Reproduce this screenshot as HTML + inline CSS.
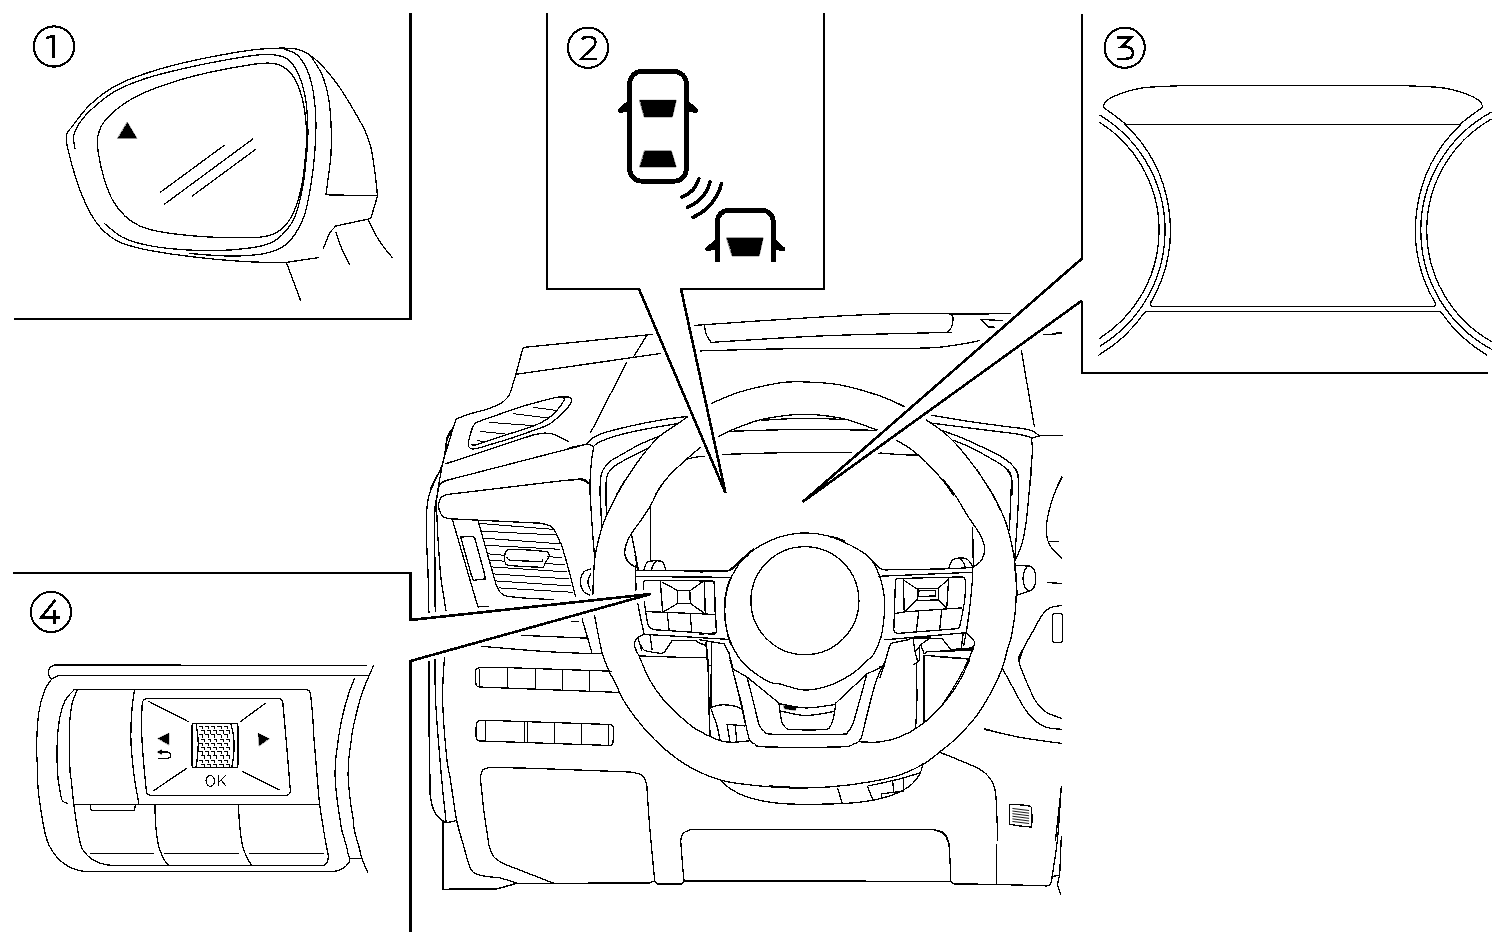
<!DOCTYPE html>
<html><head><meta charset="utf-8"><title>Diagram</title>
<style>
html,body{margin:0;padding:0;background:#fff;}
body{width:1502px;height:946px;overflow:hidden;font-family:"Liberation Sans",sans-serif;}
svg{display:block;position:absolute;left:0;top:0;shape-rendering:crispEdges;}
path,circle,ellipse,line,rect,polygon,polyline{stroke:#000;stroke-linecap:round;stroke-linejoin:round;}
text{font-family:"Liberation Sans",sans-serif;fill:#000;stroke:none;}
</style></head><body>
<svg width="1502" height="946" viewBox="0 0 1502 946">
<g fill="none" stroke-width="1.3">
<path d="M104.4 223.5C107.4 225.8 115.6 233.7 122.4 237.2C129.1 240.8 136.1 242.8 144.9 244.7C153.6 246.7 163.2 248 174.8 249C186.5 250 201.9 250.9 214.8 250.7C227.7 250.5 242.6 249.1 252.2 247.7C261.8 246.3 266.8 244.8 272.2 242.2C277.6 239.6 280.9 236.4 284.7 232.2C288.4 228.1 291.7 224.3 294.7 217.3C297.6 210.2 300.2 199.4 302.2 189.8C304.1 180.2 305.2 169.8 306.1 159.8C307.1 149.8 308.1 140.7 307.9 129.9C307.7 119 306.6 104.5 304.9 94.9C303.2 85.3 300.5 78.4 297.7 72.4C294.8 66.5 291.5 62.1 287.7 59.2C283.8 56.3 279.8 55.7 274.7 55C269.6 54.3 267.2 53.8 257.2 55C247.2 56.1 227.7 59.5 214.8 62C201.9 64.4 191.5 66.7 179.8 69.4C168.2 72.2 155.7 75 144.9 78.7C134 82.3 123.4 86.6 114.9 91.4C106.4 96.2 99.5 102.2 93.7 107.4C87.9 112.6 83.3 117.6 79.9 122.4C76.6 127.2 74.5 131.7 73.7 136.1C72.9 140.5 74.7 146.5 75 148.6"/>
<path d="M285.9 262.4C280.3 262.4 264.1 262.5 252.2 261.9C240.4 261.4 227.7 260.4 214.8 259.2C201.9 257.9 186.5 256.1 174.8 254.5C163.2 252.8 154 251.5 144.9 249.5C135.7 247.4 127 245.5 119.9 242.2C112.8 238.9 107.4 234.7 102.4 229.7C97.4 224.7 93.7 218.9 89.9 212.3C86.2 205.6 83.1 198.1 79.9 189.8C76.8 181.5 73.5 171.1 71.2 162.3C68.9 153.6 66 143.4 66.2 137.4C66.4 131.3 68.5 131.5 72.5 126.1C76.4 120.7 82.9 111.6 89.9 104.9C97 98.2 105.7 91.4 114.9 86.2C124.1 81 134 77.4 144.9 73.7C155.7 69.9 168.2 66.6 179.8 63.7C191.5 60.8 202.7 58.5 214.8 56.2C226.8 53.9 241.8 51.3 252.2 50C262.6 48.6 270.1 48.4 277.2 48.2C284.3 48 290.1 48.1 294.7 48.7C299.2 49.3 301.3 50.3 304.6 52C308 53.6 310.9 55.5 314.6 58.7C318.4 61.9 323 66.4 327.1 71.2C331.3 76 335.4 81.4 339.6 87.4C343.8 93.5 347.9 100.3 352.1 107.4C356.2 114.5 361.4 123.2 364.6 129.9C367.7 136.5 369.1 140.7 370.8 147.3C372.5 154 373.4 161.7 374.6 169.8C375.7 177.9 377.1 191.7 377.5 196"/>
<path d="M97.4 138.6C98.3 133.2 99.5 128 103.7 122.4C107.8 116.8 115.5 109.9 122.4 104.9C129.3 99.9 135.3 96.6 144.9 92.4C154.4 88.3 168.2 83.5 179.8 79.9C191.5 76.4 202.7 73.8 214.8 71.2C226.8 68.6 243.1 65.8 252.2 64.5C261.4 63.1 264.7 62.9 269.7 63.2C274.7 63.5 278.4 64.2 282.2 66.2C285.9 68.2 289.3 71 292.2 74.9C295.1 78.9 297.6 84.1 299.7 89.9C301.7 95.7 303.5 102 304.6 109.9C305.8 117.8 306.6 128.2 306.6 137.4C306.6 146.5 305.6 156.1 304.6 164.8C303.7 173.6 302.6 182.3 300.9 189.8C299.2 197.3 297.2 203.9 294.7 209.8C292.2 215.6 289.3 220.8 285.9 224.7C282.6 228.7 279.1 231.4 274.7 233.5C270.3 235.6 267.2 236.5 259.7 237.2C252.2 237.9 240.6 237.9 229.7 237.7C218.9 237.5 206.4 237 194.8 236C183.1 235 169 233.4 159.8 231.7C150.7 230.1 145.7 228.6 139.9 226C134 223.4 129.5 220.4 124.9 216C120.3 211.6 115.9 206.2 112.4 199.8C108.9 193.3 106 184.8 103.7 177.3C101.4 169.8 99.7 161.3 98.7 154.8C97.6 148.4 96.6 144 97.4 138.6Z"/>
<path d="M283.4 48.7C285.7 49.8 293.2 51.4 297.2 55C301.1 58.5 304.4 63.7 307.1 69.9C309.8 76.2 311.9 83.7 313.4 92.4C314.8 101.2 315.7 112 315.9 122.4C316.1 132.8 315.5 144.4 314.6 154.8C313.8 165.2 312.6 174.8 310.9 184.8C309.2 194.8 307.4 206.4 304.6 214.8C301.9 223.1 298.4 229.3 294.7 234.7C290.9 240.1 287.2 244.1 282.2 247.2C277.2 250.3 271.8 252 264.7 253.5C257.6 254.9 248.1 255.6 239.7 255.9C231.4 256.3 223.1 255.9 214.8 255.4C206.4 255 194 253.8 189.8 253.5"/>
<path d="M310.9 56.2C312.8 59.3 319.2 68.1 322.1 74.9C325 81.8 326.9 89.1 328.4 97.4C329.9 105.7 330.7 115.7 331.1 124.9C331.6 134 331.5 144 331.1 152.3C330.7 160.7 329.5 167.7 328.6 174.8C327.7 181.9 326.3 191.5 325.9 194.8"/>
<path d="M325.9 194.8L377.5 195.8"/>
<path d="M377.5 196L370.8 218.5L370.8 218.5L335.9 226L335.9 226C334.8 227.2 331.7 229.7 329.6 233.5C327.5 237.2 324.4 246 323.4 248.5"/>
<path d="M368.3 219.7C369.8 222.7 374.1 232.2 377.1 237.2C380 242.2 383.3 246.4 385.8 249.7C388.3 253 391 255.9 392 257.2"/>
<path d="M335.9 232.2C336.9 235.1 339.8 244.3 342.1 249.7C344.4 255.1 348.3 262.2 349.6 264.7"/>
<path d="M285.9 262.4L318.4 257.7"/>
<path d="M286.7 263.3L300.6 300.6"/>
<path d="M160.3 192.3L224.3 145.3"/>
<path d="M164.3 204.3L252.7 139.1"/>
<path d="M192.3 196L255.7 149.3"/>
<path d="M1125.5 124C1123.8 122.7 1118.4 118.3 1115 115.8C1111.6 113.2 1107.2 110.4 1105.3 108.7C1103.3 107.1 1102.9 107.5 1103.3 106C1103.7 104.6 1104.8 102 1107.5 100C1110.2 98 1115 95.8 1119.5 94C1124 92.3 1129.8 90.6 1134.5 89.5C1139.3 88.4 1141 87.9 1148 87.3C1155 86.7 1171.8 86.1 1176.6 85.9"/>
<path d="M1460.3 124C1462 122.7 1467.4 118.3 1470.8 115.8C1474.2 113.2 1478.6 110.4 1480.5 108.7C1482.5 107.1 1482.9 107.5 1482.5 106C1482.1 104.6 1481 102 1478.3 100C1475.6 98 1470.8 95.8 1466.3 94C1461.8 92.3 1456 90.6 1451.3 89.5C1446.5 88.4 1444.8 87.9 1437.8 87.3C1430.8 86.7 1414 86.1 1409.2 85.9"/>
<path d="M1125.1 124.4A145.3 145.3 0 0 1 1151.1 302.1"/>
<path d="M1144.6 312.4A145.3 145.3 0 0 1 1098.9 355"/>
<path d="M1460.7 124.4A145.3 145.3 0 0 0 1434.7 302.1"/>
<path d="M1441.2 312.4A145.3 145.3 0 0 0 1486.9 355"/>
<path d="M1100 115.3A134.8 134.8 0 0 1 1100 346.1"/>
<path d="M1100 122.5A127.9 127.9 0 0 1 1100 338.1"/>
<path d="M1490.9 112.4A134.8 134.8 0 0 0 1491.5 349.3"/>
<path d="M1490.9 119.4A127.9 127.9 0 0 0 1491.4 341.5"/>
<path d="M1150.9 302C1150.8 302.4 1150.2 303.9 1150.3 304.6C1150.4 305.3 1151 305.9 1151.6 306.2C1152.2 306.5 1153.6 306.4 1154 306.4"/>
<path d="M1434.9 302C1435 302.4 1435.6 303.9 1435.5 304.6C1435.4 305.3 1434.8 305.9 1434.2 306.2C1433.6 306.5 1432.2 306.4 1431.8 306.4"/>
<path d="M1144.6 312.4C1144.8 312.3 1145.3 311.8 1146 311.6C1146.7 311.4 1148.1 311.4 1148.5 311.4"/>
<path d="M1441.2 312.4C1441 312.3 1440.5 311.8 1439.8 311.6C1439.2 311.4 1437.7 311.4 1437.3 311.4"/>
<path d="M50.6 678C50.3 677.5 49.1 676.1 48.8 675C48.4 673.8 48.3 672.3 48.6 671C48.9 669.6 49.5 668 50.6 667C51.6 666 54.2 665.3 55 665L55 665L366.8 665.4"/>
<path d="M367.3 675.6L63 675.6L63 675.6C62.2 675.6 60 675.5 58.6 675.8C57.2 676.1 55.8 676.7 54.6 677.4C53.3 678.1 52.7 677.5 51 680C49.2 682.4 46 686.3 44 692C41.9 697.6 39.8 704.9 38.6 713.9C37.4 722.9 36.8 736.6 36.6 745.9C36.4 755.2 37.5 764.7 37.6 769.9C37.7 775.1 37.2 772.5 37.4 777C37.6 781.5 37.7 787.6 39 797C40.3 806.3 43 824.3 45 832.9C47 841.6 48 843.9 51 848.9C54 853.9 58 859.2 63 862.9C68 866.6 73.9 869.5 80.9 870.9C87.9 872.3 100.9 871.2 104.9 871.3L104.9 871.3L320.1 871.4L320.1 871.4C322.5 871.4 330.5 871.8 334.2 871.4C337.9 870.9 339.9 870 342.2 868.7C344.6 867.4 347 865.3 348.2 863.6C349.5 862 349.7 859.5 350 858.6"/>
<path d="M73.9 690C72.4 691.8 67.4 696 65 700.9C62.5 705.9 60.7 711.8 59.4 719.9C58 728.1 57.2 740.2 57 749.9C56.7 759.6 57.6 771.7 58 777.9C58.4 784 58.7 783.3 59.4 787C60 790.6 60.7 797.2 62 800C63.2 802.7 66.1 802.8 67 803.4"/>
<path d="M77.3 690C76.4 692.3 73.3 697.3 72 703.9C70.6 710.6 69.7 718.9 69.4 729.9C69 740.9 69.6 761.4 70 769.9C70.3 778.4 70.7 775.1 71.4 781C72 786.8 72.7 795.6 73.9 804.9C75.2 814.3 77.4 829.4 78.9 836.9C80.4 844.4 80.6 846.1 82.9 849.9C85.3 853.7 88.9 857.4 92.9 859.9C96.9 862.4 100.9 864 106.9 864.9C112.9 865.8 125.2 865.2 128.9 865.3L128.9 865.3L315.1 865.4L315.1 865.4C316.3 865.4 320.5 865.6 322.1 865.4C323.8 865.3 324.2 865.4 325.1 864.6C326.1 863.9 327.2 862.7 327.7 861.1C328.2 859.5 328.4 857.8 328.2 855.1C327.9 852.4 326.9 849.2 326.2 845.1C325.4 840.9 324.7 836.8 323.6 830C322.6 823.2 320.8 814.2 319.6 804.3C318.5 794.3 317.5 780.8 316.6 770.1C315.7 759.4 314.8 749.1 314.1 740C313.4 730.9 313.2 723 312.6 715.3C312 707.6 310.9 697.3 310.6 693.7L310.6 693.7C310.3 693.2 309.8 691.7 309.1 691C308.3 690.3 306.6 689.7 306.1 689.5L306.1 689.5L73.9 689.6"/>
<path d="M134.5 690C134.1 693.3 132.5 701.6 131.9 709.9C131.3 718.3 130.6 729.2 130.9 739.9C131.2 750.6 132.6 763.2 133.9 773.9C135.2 784.5 138 798.8 138.9 803.8"/>
<path d="M90.5 804.8L90.5 808.8L90.5 808.8L91.9 810.4L91.9 810.4L134.5 810.4L134.5 810.4L135.3 804.8"/>
<path d="M154.9 804.9C155 808.6 155.2 819.9 155.9 826.9C156.5 833.9 157.4 841.2 158.9 846.9C160.4 852.6 163.2 857.8 164.9 860.9C166.5 864 168.2 864.6 168.8 865.3"/>
<path d="M238.4 804.9C238.6 808.6 239 819.9 239.8 826.9C240.5 833.9 241.4 841.6 242.8 846.9C244.1 852.2 246.3 855.8 247.8 858.9C249.3 862 251.1 864.2 251.8 865.3"/>
<path d="M373.9 665.1C373.1 666.7 370.9 671.4 369.3 675.1C367.7 678.8 366 682.6 364.3 687.2C362.6 691.7 360.8 697 359.3 702.2C357.8 707.4 356.4 713.3 355.3 718.3C354.1 723.3 352.9 728.7 352.3 732.3C351.6 736 351.8 735.4 351.3 740C350.7 744.6 349.2 753.7 348.7 760.1C348.2 766.4 348 771.5 348.2 778.2C348.5 784.9 349.4 793.2 350.3 800.3C351.1 807.3 352.6 815.4 353.3 820.3C353.9 825.3 353.3 825.4 354.3 830C355.3 834.6 358 843.4 359.3 848.1C360.5 852.8 360.4 854 361.8 858.1C363.2 862.2 366.8 870.3 367.8 872.7"/>
<path d="M354.3 679.1C353.4 681.3 350.8 687.5 349.2 692.2C347.7 696.9 346.1 702.2 344.7 707.2C343.4 712.3 342.2 717.5 341.2 722.3C340.2 727.2 339.2 733.4 338.7 736.4C338.2 739.3 338.7 736 338.2 740C337.7 744 336.2 753.7 335.7 760.1C335.2 766.4 334.9 771.5 335.2 778.2C335.4 784.9 336.4 793.2 337.2 800.3C338 807.3 339.5 815.4 340.2 820.3C341 825.3 340.7 825.9 341.7 830C342.7 834.1 345.1 841 346.2 845.1C347.3 849.1 347.6 851.9 348.2 854.1C348.9 856.3 349.7 857.7 350 858.4"/>
<path d="M142.2 704C142.4 703.4 142.7 701 143.5 700C144.3 699.1 146.4 698.6 147 698.3L147 698.3L278.6 698.3L278.6 698.3C279.1 698.5 280.9 698.8 281.6 699.5C282.3 700.2 282.6 702 282.8 702.5L282.8 702.5C283.4 709.6 285.4 730.7 286.6 745.2C287.9 759.8 289.7 782.4 290.3 789.9L290.3 789.9C290.2 790.5 290.3 792.5 289.7 793.4C289.1 794.4 287.2 795.1 286.7 795.4L286.7 795.4L150.9 795.4L150.9 795.4C150.3 795.2 148 794.8 147.3 793.8C146.5 792.9 146.4 790.5 146.3 789.9L146.3 789.9C145.7 784.1 143.8 766 143 755.3C142.2 744.5 141.6 733.7 141.5 725.1C141.4 716.6 142.1 707.6 142.2 704"/>
<path d="M149 701.5L188.2 721.6"/>
<path d="M265.5 703.2L240.4 721.6"/>
<path d="M186.7 768.3L153.9 790.5"/>
<path d="M242.4 771.3L279.1 789.9"/>
<path d="M158.6 758.5L167.1 758.5L167.1 758.5C167.6 758.3 169.2 758 169.8 757.5C170.4 756.9 170.6 756 170.6 755.3C170.6 754.5 170.4 753.6 169.8 753C169.2 752.5 167.6 752.1 167.1 751.9L167.1 751.9L158.6 751.9"/>
<path d="M196.2 724.1C196.5 726 197.4 731.7 197.7 735.2C198.1 738.7 198.3 741.5 198.2 745.2C198.2 748.9 197.8 753.6 197.4 757.3C197.1 760.9 196.3 765.6 196 767.3"/>
<path d="M230.9 724.1C231.3 726 232.9 731.7 233.4 735.2C233.9 738.7 234.1 741.5 234.1 745.2C234.1 748.9 233.8 753.6 233.4 757.3C233 760.9 232.1 765.6 231.9 767.3"/>
<path d="M652.7 334.4L525.5 347.2L525.5 347.2C525.1 347.3 523.6 347.6 523.1 348.1C522.5 348.7 522.4 350 522.3 350.3L522.3 350.3L515.9 374.3L515.9 374.3C515.4 375.9 513.7 381.1 512.9 383.9C512.1 386.7 511.8 388.6 510.9 390.9C510 393.2 509.3 395.3 507.5 397.5C505.7 399.7 503.5 401.9 499.9 403.9C496.3 405.9 490.9 407.8 485.9 409.5C480.9 411.1 474.4 412.5 469.9 413.9C465.4 415.3 460.8 417.2 458.9 417.9L458.9 417.9C458.5 418.1 457 418.5 456.4 419.1C455.7 419.7 455.4 421.1 455.2 421.5L455.2 421.5C454.6 423.2 453.5 426.8 452 431.9C450.4 436.9 447.5 446.8 446 451.8C444.5 456.8 444.3 455.6 443 461.8C441.6 468 438.8 484.5 438 489"/>
<path d="M515.9 374.3L660.7 353.5"/>
<path d="M646.7 335.6L633.8 356.3"/>
<path d="M626.8 362.3L590.8 432.3"/>
<path d="M477.3 422.1C480.6 420.7 487.3 418.5 494.1 416.1C501 413.7 510.2 410.2 518.2 407.7C526.3 405.1 535.8 402.6 542.3 400.8C548.9 399.1 553.6 397.9 557.6 397.2C561.6 396.6 564.4 396.9 566.4 397C568.5 397 569.2 397.2 570.1 397.6C570.9 398 571.7 398.2 571.7 399.4C571.6 400.6 570.8 402.9 569.7 404.9C568.5 406.8 566.7 408.9 564.8 410.9C563 412.9 560.4 415.1 558.4 416.9C556.4 418.7 554.8 420.1 552.8 421.6C550.8 423 550.8 423.8 546.4 425.7C541.9 427.6 532.3 430.8 526.3 433C520.2 435.1 515.6 436.9 510.2 438.6C504.8 440.3 499.5 441.8 494.1 443.4C488.8 445 481.7 447.3 478.1 448.2C474.5 449.1 473.8 448.9 472.4 448.9C471 448.8 470.3 448.6 469.6 447.8C468.9 447.1 468.2 446.3 468.3 444.2C468.3 442.1 469.4 437.9 470 435.4C470.7 432.8 471.4 430.7 472 429C472.7 427.2 473.2 426.1 474.1 424.9C474.9 423.8 473.9 423.6 477.3 422.1Z"/>
<path d="M563.2 398C563.4 398.4 565.1 398.4 564 400.4C563 402.5 559.5 407.5 556.8 410.5C554.1 413.5 551.7 416 548 418.5C544.2 421.1 541.1 423.1 534.3 425.7C527.5 428.4 515.4 431.8 507 434.6C498.6 437.3 488.9 440.5 483.7 442.2C478.5 444 477.7 444.6 475.7 445C473.6 445.4 472 444.7 471.2 444.6"/>
<path d="M445.9 463.7L534.3 434.6L534.3 434.6C536.2 434.3 542.2 433.1 545.6 433.1C548.9 433.1 550.5 433.1 554.4 434.6C558.3 436 566.4 440.6 568.8 441.8"/>
<path d="M438 489C438.3 488.1 438.8 485.2 440 483.8C441.1 482.4 444.1 481.3 445 480.8L445 480.8L586.8 444.2"/>
<path d="M570 447.7L587.1 444L587.1 444C587.7 444.2 590 444.7 591.1 445.2C592.2 445.7 593.2 446.9 593.6 447.2L593.6 447.2C593.3 449.4 592.2 454.7 591.6 460.3C591 465.8 590.3 474.5 590.1 480.3C589.8 486.1 590.1 492.6 590.1 495"/>
<path d="M587.1 444C587.8 443.1 588.9 440.5 591.6 438.7C594.3 436.9 596.7 435.2 603.1 433.1C609.6 431 620.7 428.3 630.3 426.1C639.8 423.9 650.8 421.7 660.4 420.1C670 418.4 683.4 416.9 688 416.3"/>
<path d="M593.6 446.4C594.5 445.7 595.5 443.9 599.1 442.2C602.7 440.5 608.3 438.2 615.2 436.2C622.1 434.1 629.9 432.2 640.3 430.1C650.7 428 671.3 424.7 677.5 423.6"/>
<path d="M688 416.6C686.2 417.8 682.1 420.7 677.5 423.9C672.8 427.1 665.2 431.6 660.4 435.7C655.5 439.7 652.5 443.3 648.3 448.2C644.1 453.1 639.3 459.6 635.3 465.3C631.3 471 627.4 477.4 624.2 482.3C621 487.3 617.5 492.9 616.2 495"/>
<path d="M660.4 435.7C657 437.1 646.7 441.1 640.3 444.2C633.9 447.3 627.2 451.4 622.2 454.2C617.2 457.1 613.2 458.9 610.2 461.3C607.2 463.6 605.7 465.9 604.1 468.3C602.6 470.6 601.9 470.9 601.1 475.3C600.4 479.8 599.9 491.7 599.6 495"/>
<path d="M648.3 448.2C645.3 449.7 635.4 454.6 630.3 457.2C625.1 459.9 620.5 462.1 617.2 464.3C613.9 466.4 611.9 468.1 610.2 470.3C608.4 472.5 607.4 473.2 606.7 477.3C605.9 481.4 605.8 492.1 605.7 495"/>
<path d="M570 480.3C571.7 480.2 577.5 479.2 580 479.3C582.6 479.5 583.6 480.6 585.1 481.3C586.6 482.1 588.4 483.4 589.1 483.9"/>
<path d="M700.5 447.2C698.2 449.2 691.5 454.7 686.5 459.2C681.5 463.8 674.8 469.8 670.4 474.3C666.1 478.8 662.9 482.9 660.4 486.4C657.9 489.8 656.2 493.6 655.4 495"/>
<path d="M686.5 459.2C688 458.9 692.5 457.7 695.5 457.2C698.5 456.7 703.1 456.4 704.6 456.2"/>
<path d="M453 427.9C452 429.9 448.3 435.9 447 439.9C445.6 443.8 445.8 447.5 445 451.8C444.1 456.2 444.5 459.6 442 465.8C439.5 472 432 485.1 430 489"/>
<path d="M451.4 429.5C450.6 430.9 447.9 434.6 447 437.9C446.1 441.1 446.1 447 446 448.8"/>
<path d="M442 465.8C439.8 470.7 431.6 486.8 429.1 495.1C426.5 503.3 427 507.6 426.6 515.1C426.2 522.7 426.3 530.3 426.6 540.3C426.8 550.2 427.8 565.1 428.1 575C428.4 584.9 428.2 593.6 428.4 599.9C428.5 606.2 428.9 610.7 429 612.9"/>
<path d="M439.6 480C439.2 482.5 437.9 490.5 437.1 495.1C436.4 499.6 435.5 501.3 435.1 507.1C434.7 513 434.6 518.9 434.6 530.2C434.6 541.5 435 563.4 435.1 575C435.2 586.6 434.9 593.6 435 599.9C435 606.2 435.3 610.7 435.4 612.9"/>
<path d="M448.7 480C447.7 480.3 444.6 481.2 443.1 482C441.6 482.8 440.5 483.2 439.6 485C438.7 486.9 438.2 489.5 437.6 493.1C437 496.6 436.1 503.3 435.9 506.1C435.7 509 436.2 504.4 436.6 510.1C437 515.8 437.4 529.4 438.1 540.3C438.8 551.1 439.8 566.4 440.6 575C441.4 583.6 442.1 585.9 443 591.9C443.9 597.9 445.5 607.7 446 610.9"/>
<path d="M560 481L446.2 494.6L446.2 494.6C445.3 495.1 442.4 496 441.1 497.6C439.9 499.2 438.9 501.8 438.6 504.1C438.4 506.4 438.9 509 439.6 511.1C440.4 513.2 441.7 515.4 443.1 516.7C444.6 517.9 447.3 518.3 448.2 518.7L448.2 518.7L540.5 523.2L540.5 523.2C542.2 523.7 548.1 524.7 550.6 526.2C553.1 527.7 554 529.5 555.6 532.2C557.2 534.9 559.3 540.6 560 542.3"/>
<path d="M559.8 541.9C560.2 542.6 560.2 540.6 561.8 545.9C563.5 551.3 567.5 565.2 569.8 573.9C572.2 582.6 574.8 593.9 575.8 597.9"/>
<path d="M560 481L581.8 478.8"/>
<path d="M581.8 478.8C582.5 479 584.6 479.2 585.8 480C587 480.8 588.6 483 589.2 483.6"/>
<path d="M477.9 520L495.9 583.9L495.9 583.9C496.6 585.2 498.2 589.9 499.9 591.9C501.6 593.9 502.2 594.9 505.9 595.9C509.6 596.9 519.2 597.5 521.9 597.9L521.9 597.9L557.8 599.9"/>
<path d="M452.2 519L477.9 606.9L477.9 606.9C478.9 606.8 481.4 606.8 483.9 606.7C486.4 606.6 491.4 606.3 492.9 606.3"/>
<path d="M471.3 575L460.7 537L460.7 537L473.3 536.4L473.3 536.4L474.8 538.2L474.8 538.2L484.8 575"/>
<path d="M473.5 580.3L485.5 578.9L485.5 578.9L484.3 573.9"/>
<path d="M473.5 580.3L470.9 573.9"/>
<path d="M504.9 554.3C505.4 553 505.8 551.6 506.9 550.8C508 550 505.2 549.2 511.4 549.3C517.7 549.4 538.4 550.7 544.6 551.5C550.8 552.3 547.8 552.9 548.6 553.8C549.3 554.7 549.5 555.6 549.1 556.8C548.7 558.1 547 559.7 546.1 561.3C545.2 563 544.7 565.6 543.6 566.6C542.5 567.5 545.2 567.4 539.5 567.2C533.9 567 515.1 566.1 509.4 565.4C503.7 564.6 506.3 563.9 505.4 562.8C504.5 561.8 504.3 560.3 504.2 558.8C504.1 557.4 504.4 555.7 504.9 554.3Z"/>
<path d="M506.9 557.3C507.2 557.7 508 559.3 508.9 559.8C509.8 560.3 507.3 560.1 512.4 560.3C517.5 560.6 534.5 561.6 539.5 561.5C544.6 561.5 542.1 560.1 542.6 559.8"/>
<path d="M590.1 495C590.1 492.5 590 479.2 590.1 480C590.2 480.8 590.3 492.6 590.6 500.1C590.9 507.6 591.6 517.7 592.1 525.2C592.6 532.7 593.2 540.1 593.6 545.3C594 550.5 594.4 554.5 594.6 556.3"/>
<path d="M600.6 480C600.6 483.3 600.5 492.2 600.6 500.1C600.8 508 601.5 522.7 601.6 527.2"/>
<path d="M606.2 480C606.1 483.3 605.9 494.4 606 500.1C606 505.8 606.5 511.8 606.7 514.1"/>
<path d="M616.2 495C617.7 492.5 625.4 479.5 625.2 480C625.1 480.5 618.3 492.2 615.2 498.1C612.1 503.9 609 509.8 606.7 515.1C604.3 520.5 602.8 524.7 601.1 530.2C599.5 535.7 597.7 543.3 596.6 548.3C595.5 553.3 595.1 555.9 594.6 560.3C594.1 564.8 593.9 569.1 593.6 575C593.3 580.9 592.9 592.4 592.8 595.9"/>
<path d="M570 479.5C572 479.6 578.9 479.2 582.1 480C585.2 480.8 587.9 483.3 589.1 484"/>
<path d="M655.4 495C657 492.5 664.9 480.8 665.4 480C665.9 479.2 660.9 485.7 658.4 490C655.9 494.4 653.4 500.9 650.3 506.1C647.3 511.3 643.5 516.6 640.3 521.2C637.1 525.8 633.6 529.9 631.3 533.7C628.9 537.6 627.3 541.2 626.2 544.3C625.1 547.4 624.7 550 624.7 552.3C624.7 554.6 625.3 556.5 626.2 558.3C627.2 560.2 628.6 561.8 630.3 563.4C631.9 564.9 635.3 566.7 636.3 567.4"/>
<path d="M631.3 533.7L634.3 548.3L638.3 569.4"/>
<path d="M643.8 569.9C644.2 568.8 645.2 564.8 646.3 563.4C647.4 561.9 648 561.5 650.3 561.1C652.7 560.8 658.2 560.8 660.4 561.1C662.6 561.5 662.5 561.9 663.4 563.4C664.3 564.8 665.5 568.8 665.9 569.9"/>
<path d="M651.3 569.9C651.8 568.8 653 564.8 653.9 563.4C654.7 561.9 656.1 561.7 656.6 561.3"/>
<path d="M590.8 568.9C589.6 569.4 585.5 569.7 583.8 571.9C582.1 574.1 580.4 578.6 580.4 581.9C580.4 585.2 582.1 589.6 583.8 591.9C585.5 594.1 589.6 594.9 590.8 595.5"/>
<path d="M590.8 573.9C590.3 575.2 587.8 579.1 587.8 581.9C587.8 584.7 590.3 589.4 590.8 590.9"/>
<path d="M635.5 570.6L727.4 571.1L727.4 571.1C728.1 570.8 729.8 570.7 731.4 569.6C733.1 568.4 734.6 566.5 737.5 564C740.3 561.6 746.7 556.5 748.5 555"/>
<path d="M636 576.6L731.4 577.3"/>
<path d="M637.6 602.2C638.1 605.2 640 614.9 641.1 620.3C642.2 625.6 643.6 632 644.1 634.3"/>
<path d="M643.6 589.1L643.6 583.1L643.6 583.1C643.7 582.8 643.7 581.7 644.1 581.3C644.4 580.9 645.3 580.7 645.6 580.6L645.6 580.6L712.4 580.9L712.4 580.9C712.6 581 713.5 581.1 713.9 581.4C714.2 581.7 714.3 582.7 714.4 582.9L714.4 582.9C714.4 586.3 714.3 595.1 714.7 603.2C715 611.3 716.1 626.6 716.4 631.3L716.4 631.3C716.1 631.7 715.7 633.3 714.9 633.8C714 634.3 711.9 634.3 711.4 634.3L711.4 634.3C708.4 634 702.7 633.1 693.3 632.3C683.9 631.6 661.5 630.2 655.1 629.8L655.1 629.8C654.3 629.5 651.4 628.9 650.1 627.8C648.9 626.7 648 624 647.6 623.3L647.6 623.3C647.3 621.3 646.2 615.1 645.6 611.2C645 607.4 644.3 602 644.1 600.2"/>
<path d="M662.2 582.1L677.2 590.3"/>
<path d="M702.8 581.6L690.8 590.1"/>
<path d="M663.7 611.7L677.2 603.7"/>
<path d="M704.3 613.2L690.8 603.7"/>
<path d="M677.4 590.3L689.8 590.3L690.3 603.4L677.4 603.4Z"/>
<path d="M646.6 611.7L662.7 612.2L705.3 614L714.9 614.5"/>
<path d="M667.2 612.7L669.2 630.8"/>
<path d="M690.1 613.7L691.8 632.3"/>
<path d="M644.1 634.3L728.9 639.4"/>
<path d="M731.4 577.3C730.8 579.1 728.5 583.5 727.4 588.1C726.3 592.8 725.3 599.9 724.9 605.2C724.6 610.6 724.8 614.6 725.4 620.3C726.1 626 727.4 634.4 728.9 639.4C730.4 644.3 733.5 648.2 734.5 650"/>
<path d="M644.1 634.3C643.1 634.8 639.6 636.2 638.1 637.3C636.5 638.5 635.6 640 635 641.4C634.5 642.7 634.4 643.9 634.5 645.4C634.7 646.8 635.8 649.2 636 650"/>
<path d="M638.1 638.4L641.6 650"/>
<path d="M650.1 635.3L652.1 650"/>
<path d="M625 557C625.7 558 627.3 561.4 629 563C630.8 564.7 634.5 566.4 635.5 567.1"/>
<path d="M635 555L637.6 569.1"/>
<path d="M684 326.4C686.7 326.1 684 326.1 700 325C716 323.8 751.9 321.3 779.9 319.6C807.9 317.8 844.5 315.6 867.8 314.6C891.1 313.6 905.9 313.5 919.8 313.4C933.6 313.3 939.6 313.7 951 313.9C962.5 314 982 314 988.2 314.1"/>
<path d="M704.4 325C704.7 326.5 704.9 331.1 706 334C707.1 336.9 710.2 341 711 342.4L711 342.4C729.1 341.3 781.7 337.6 819.9 336C858 334.3 918.6 333.2 939.7 332.6C960.9 332 945.8 332.4 947 332.3L947 332.3C947.7 331.6 950 330.2 951 328.1C952.1 326.1 952.8 322.1 953.1 320.1C953.3 318.1 953.1 317.1 952.6 316.1C952.1 315 950.5 314.1 950 313.8"/>
<path d="M686 351.5C688.3 351.4 684.3 351.4 700 350.9C715.7 350.5 753.3 349.3 779.9 348.9C806.6 348.5 834.9 348.7 859.8 348.5C884.8 348.4 913.1 348.6 929.8 347.9C946.4 347.2 951.1 345.6 959.7 344.4C968.4 343.1 978 340.9 981.7 340.2"/>
<path d="M1003.8 321.6C1003.4 321.4 1004.5 320.9 1001.3 320.6C998 320.3 987.7 319.8 984.2 319.6C980.7 319.4 980.8 319.3 980.2 319.3L980.2 319.3C980.5 319.6 980.8 319.8 982.2 321.1C983.5 322.4 987.2 325.9 988.2 326.9L988.2 326.9L997.2 327.3"/>
<path d="M1042.9 334.3L1055.5 334.1L1055.5 334.1L1056.5 333.1L1056.5 333.1L1062 333.1"/>
<path d="M711 403.5C715.8 401.6 728.5 395.3 740 391.9C751.4 388.5 769.3 384.6 779.9 382.9C790.6 381.2 793.9 381.6 803.9 381.9C813.9 382.2 827.2 382.6 839.9 384.9C852.5 387.2 869 392.2 879.8 395.9C890.6 399.6 900.6 405.1 904.8 406.9"/>
<path d="M718 436.9C720.3 435.7 725 432.7 732 429.9C739 427 750.9 422.3 759.9 419.9C768.9 417.5 778.6 416.4 785.9 415.5C793.2 414.5 797.6 414.3 803.9 414.3C810.2 414.3 816.5 414.5 823.9 415.5C831.2 416.4 838.9 417.4 847.8 419.9C856.8 422.3 872.8 428.5 877.8 430.3"/>
<path d="M761.9 420.3C768.9 419.9 790.2 418.4 803.9 418.3C817.5 418.1 837.2 419.3 843.8 419.5"/>
<path d="M730 431.3C741.6 431 775.4 429.6 799.9 429.5C824.4 429.3 864 430.1 876.8 430.3"/>
<path d="M722 454.4C731.6 454.2 758.1 453.2 779.9 452.8C801.7 452.5 840.7 452.5 852.8 452.4"/>
<path d="M700 456.8L704 456.4"/>
<path d="M877.8 452.8C881.9 453.2 895.4 454.4 902.1 454.7C908.7 455.1 915 455 917.6 455"/>
<path d="M931.2 415.3C937.7 416.3 957.1 419.6 970.3 421.6C983.6 423.6 1002.2 426 1010.5 427.1C1018.8 428.2 1017 427.7 1020.3 428.2C1023.7 428.7 1027.9 429.4 1030.4 430.2C1032.9 430.9 1033.9 431.7 1035.4 432.7C1036.9 433.7 1038.7 435.6 1039.4 436.2"/>
<path d="M925.1 419.3L931.2 423.1L931.2 423.1C937.7 423.9 957.1 426.4 970.3 428.1C983.6 429.8 1002.5 432.1 1010.5 433.1C1018.5 434.2 1015.4 433.6 1018.3 434.2C1021.3 434.8 1026.2 436 1028.4 436.7C1030.5 437.4 1030.9 438 1031.4 438.2L1031.4 438.2L1039.4 436L1039.4 435.7L1062 435.5"/>
<path d="M925.1 419.3C928 421.3 937.4 427.3 942.2 431.1C947.1 434.9 950.3 438 954.3 442.2C958.3 446.4 962.3 451.2 966.3 456.2C970.3 461.3 974.7 467.1 978.4 472.3C982.1 477.5 986 483.6 988.4 487.4C990.8 491.2 992.2 493.7 992.9 495"/>
<path d="M942.2 430.6C945.2 431.7 953.9 434.6 960.3 437.2C966.7 439.8 973.7 443 980.4 446.2C987.1 449.4 995.4 453.4 1000.5 456.2C1005.5 459.1 1007.8 460.8 1010.5 463.3C1013.2 465.8 1015.2 468.5 1016.5 471.3C1017.9 474.1 1018.2 476.4 1018.5 480.3C1018.9 484.3 1018.5 492.6 1018.5 495"/>
<path d="M953.3 440.2C956.1 441.3 964.1 444.2 970.3 447.2C976.5 450.2 984.9 455.1 990.4 458.2C995.9 461.4 1000.3 463.8 1003.5 466.3C1006.7 468.8 1008.1 471 1009.5 473.3C1010.9 475.7 1011.6 476.7 1012 480.3C1012.4 484 1012 492.6 1012 495"/>
<path d="M1021.3 350.2L1034.4 426.7"/>
<path d="M1031.4 438.2C1031.6 440.2 1032.5 444.9 1032.4 450.3C1032.3 455.6 1031.3 464.5 1030.9 470.3C1030.5 476.1 1030 482.6 1029.9 485"/>
<path d="M896 440.2C898 441.3 904.2 444.6 908.1 447.2C911.9 449.8 915.1 452.2 919.1 455.7C923.1 459.2 928 463.9 932.2 468.3C936.4 472.7 940.7 477.9 944.2 482.3C947.7 486.8 951.8 492.9 953.3 495"/>
<path d="M890 400L905.1 406.5"/>
<path d="M1062 477.4L1058.5 485"/>
<path d="M743 558.9C747.6 553.9 753.8 549.6 759.9 545.9C766.1 542.3 772.6 539.1 779.9 536.9C787.2 534.8 795.9 533.1 803.9 532.9C811.9 532.8 819.9 533.8 827.9 535.9C835.9 538.1 844.8 542.3 851.8 545.9C858.8 549.6 865.3 553.3 869.8 557.9C874.3 562.6 876.6 568.9 878.8 573.9C881 578.9 881.8 582.9 882.8 587.9C883.8 592.9 884.6 598.5 884.8 603.9C885 609.2 884.5 614.2 883.8 619.9C883.1 625.5 882.5 632.2 880.8 637.8C879.1 643.5 876 650.1 873.8 653.8C871.7 657.5 871.5 656.6 867.8 660C864.2 663.4 858.5 669.7 851.8 674C845.2 678.3 835.9 683.3 827.9 686C819.9 688.6 811.9 690.3 803.9 690C795.9 689.6 785.6 685.3 779.9 684C774.3 682.7 774.4 684.2 770 682.2C765.6 680.3 758.1 675.5 753.6 672.2C749 668.8 745.5 665.5 742.5 662.1C739.5 658.8 737.7 656.1 735.5 652.1C733.2 648 730.7 643.2 729 637.8C727.2 632.5 725.7 625.5 725 619.9C724.2 614.2 724 609.2 724.4 603.9C724.7 598.5 725.7 592.5 727 587.9C728.2 583.2 729.3 580.7 732 575.9C734.6 571.1 738.3 563.9 743 558.9Z"/>
<path d="M700 571.9L727 571.5L727 571.5C727.8 570.9 729.3 570.2 732 567.9C734.6 565.6 741.1 559.6 743 557.9"/>
<path d="M869.8 557.9C870.8 558.9 874 562.1 875.8 563.9C877.6 565.7 879.3 567.9 880.8 568.9C882.3 569.9 884.1 569.7 884.8 569.9L884.8 569.9C894.6 569.7 929.1 569.3 943.7 568.9C958.4 568.5 967.9 567.7 972.7 567.5"/>
<path d="M878.8 576.3L971.7 572.3"/>
<path d="M895.4 581.9C895.5 581.5 895.4 580.1 895.8 579.5C896.2 578.9 897.5 578.7 897.8 578.5L897.8 578.5L961.7 576.9L961.7 576.9C962.2 577.1 963.7 577.3 964.3 577.9C964.9 578.5 965.2 579.9 965.3 580.3L965.3 580.3C965.2 583.6 965.7 592.1 964.7 599.9C963.8 607.6 960.6 622.3 959.7 626.8L959.7 626.8C959.5 627.1 959 627.9 958.3 628.2C957.7 628.6 956.2 628.7 955.7 628.8L955.7 628.8L897.8 633.4L897.8 633.4C897.3 633.2 895.5 632.8 894.8 632.2C894.1 631.6 894 630.2 893.8 629.8L893.8 629.8C894 624.8 894.5 607.9 894.8 599.9C895.1 591.9 895.3 584.9 895.4 581.9"/>
<path d="M903.4 579.5L904.2 611.9"/>
<path d="M948.7 577.9L946.7 608.9"/>
<path d="M904.8 580.9L916.8 588.9"/>
<path d="M947.7 579.9L938.7 587.9"/>
<path d="M905.4 610.9L916.8 599.9"/>
<path d="M946.7 607.9L938.7 599.9"/>
<path d="M917.4 588.9L938.7 588.3L938.7 599.9L917.4 600.5Z"/>
<path d="M918.8 590.9L935.8 590.3L935.8 595.9L918.8 596.5Z"/>
<path d="M894.8 613.5L904.2 611.9L946.7 608.9L961.7 607.9"/>
<path d="M918.8 611.5L916.2 631.8"/>
<path d="M941.7 609.9L939.7 629.8"/>
<path d="M972.7 527.9L973.3 566.9"/>
<path d="M943.7 480C945.7 482.7 951.7 490 955.7 496C959.7 502 963.7 509.6 967.7 516C971.7 522.3 976.9 528.6 979.7 533.9C982.5 539.3 984.4 543.6 984.7 547.9C985 552.3 983.5 556.8 981.7 559.9C979.9 563.1 975 565.7 973.7 566.9"/>
<path d="M983.7 480C985.4 482.7 991 491 993.7 496C996.4 501 999 507.6 1000.1 510"/>
<path d="M948.7 567.9C949.2 566.7 950.6 562.5 951.7 560.9C952.9 559.3 953.4 558.9 955.7 558.5C958.1 558.1 963.4 558 965.7 558.5C968 559.1 968.5 560.5 969.7 561.9C970.9 563.3 972.2 566.1 972.7 566.9"/>
<path d="M959.7 558.5C960.4 559.2 962.8 561.3 963.7 562.9C964.7 564.5 965.1 567.1 965.3 567.9"/>
<path d="M972.7 567.5C972.6 570.2 972.8 575.8 972.1 583.9C971.4 591.9 970.1 605.5 968.7 615.9C967.3 626.2 964.6 640.8 963.7 645.8"/>
<path d="M884.8 639.8L965.7 632.8"/>
<path d="M967.6 622.6L966.4 633.4"/>
<path d="M966.4 633.4C967.4 634.3 971.1 637.3 972.4 638.7C973.7 640.1 974.1 640.7 974.4 641.9C974.7 643.1 975 644.8 974 645.9C973 647 970.5 647.8 968.4 648.3C966.2 648.8 962.3 649 961.1 649.1"/>
<path d="M963.2 633.8L961.1 649.1"/>
<path d="M928.2 638.3L941.9 638.3L950.7 649.5"/>
<path d="M929.8 638.3L920.6 644.7L924.2 653.9"/>
<path d="M924.2 653.9L927.4 651.4L927.4 651.4L972.4 650.5"/>
<path d="M925 655.4L968.4 658.7"/>
<path d="M909.7 639.5L893.7 642.7L893.7 642.7C893.1 642.9 891.4 642.8 890.4 644.3C889.5 645.8 888.4 650.3 888 651.5L888 651.5L884 666L884 666L880 677.2"/>
<path d="M880 666.8L884 666"/>
<path d="M913.3 639.9L914.9 651.5L917.4 660.3"/>
<path d="M914.9 651.5L919.8 646.3"/>
<path d="M914.1 664.4L919.8 660.3"/>
<path d="M916.6 663.6L917 701"/>
<path d="M700 581.9L714 581.5L714 581.5C714.2 584.6 714.6 591.3 715 599.9C715.4 608.4 716.1 627.3 716.4 632.8L716.4 632.8L700 634.2"/>
<path d="M700 639.8L724 643.8L724 643.8C724.8 645.5 727.5 649.6 729 653.8C730.5 658 732.3 666.5 733 669"/>
<path d="M730 660C732 667.7 738.8 693 742 706C745.1 718.9 746.8 731.6 748.9 737.9C751.1 744.2 752.1 742.4 754.9 743.9C757.8 745.4 751.8 746.4 765.9 746.9C780.1 747.4 825.2 747.4 839.9 746.9C854.5 746.4 850.3 745.2 853.8 743.9C857.3 742.6 858.8 742.9 860.8 738.9C862.8 734.9 863.3 729.4 865.8 719.9C868.3 710.4 872.5 692 875.8 682C879.1 672 884.1 663.7 885.8 660"/>
<path d="M747 677C747.9 680.8 750.9 692.1 752.9 700C754.9 707.8 757.1 718.8 758.9 723.9C760.8 729.1 761.4 729.2 763.9 730.9C766.4 732.7 761.3 733.8 773.9 734.3C786.6 734.9 827.5 734.7 839.9 734.3C852.2 733.9 845.7 733.7 847.8 731.9C850 730.2 850.8 729.3 852.8 723.9C854.8 718.6 857.5 708.3 859.8 700C862.2 691.6 865.7 678.3 866.8 674"/>
<path d="M733 669L747 677"/>
<path d="M866.8 674L883.8 666"/>
<path d="M747 677L778.9 703"/>
<path d="M866.8 674L835.9 703"/>
<path d="M778.9 703C779.1 704.3 779.4 707.8 779.9 710.9C780.4 714.1 780.9 719.1 781.9 721.9C782.9 724.8 784.2 726.7 785.9 727.9C787.6 729.2 785.6 729.3 791.9 729.5C798.2 729.8 817.5 730 823.9 729.5C830.2 729.1 828.4 728.5 829.9 726.9C831.4 725.3 832 722.8 832.9 719.9C833.7 717.1 834.4 712.6 834.9 709.9C835.4 707.3 835.7 705 835.9 704"/>
<path d="M778.9 703.6C783.4 704.3 796.4 707.8 805.9 707.9C815.4 708.1 830.9 705 835.9 704.4"/>
<path d="M779.9 710.9C784.2 711.7 796.8 715.4 805.9 715.5C814.9 715.6 829.5 712.2 834.3 711.5"/>
<path d="M860.8 741.9C864 741.9 873.3 742.7 879.8 741.9C886.3 741.1 893.1 739.6 899.8 736.9C906.4 734.3 913.1 730.8 919.8 725.9C926.4 721.1 933.4 714.9 939.7 707.9C946.1 701 952.7 692 957.7 684C962.7 676 967.7 664 969.7 660"/>
<path d="M720 779.9C722 781.5 727 786.9 732 789.9C737 792.9 742 795.6 749.9 797.9C757.9 800.1 768.3 802.4 779.9 803.4C791.6 804.5 806.6 804.4 819.9 804.2C833.2 804 848.2 803.6 859.8 802.2C871.5 800.9 881.5 798.6 889.8 795.9C898.1 793.1 904.8 789.5 909.8 785.9C914.8 782.2 917.6 777.5 919.8 773.9C921.9 770.2 922.3 765.6 922.8 763.9"/>
<path d="M837.9 788.9L842.2 803.4"/>
<path d="M867.8 786.9L872.8 799.9"/>
<path d="M881.8 798.9L881.8 793.9L881.8 793.9L903.8 790.9L903.8 790.9L903.8 778.9"/>
<path d="M892.8 781.9L893.8 792.9"/>
<path d="M868.8 785.9C874 784.7 891.3 781 899.8 778.9C908.3 776.7 916.4 773.9 919.8 772.9"/>
<path d="M984.7 728.9L1000.1 732.9"/>
<path d="M710 707.9C711.7 707.4 716 705.3 720 705C724 704.6 730.1 705.1 734 706C737.8 706.8 741.5 709.3 743 709.9"/>
<path d="M711 708.9C712 711.8 715.5 720.8 717 725.9C718.5 731.1 719.5 737.6 720 739.9"/>
<path d="M727 724.3L730 741.9"/>
<path d="M735 724.9L737 741.9"/>
<path d="M727 724.3L745 725.9"/>
<path d="M700 829.4L932.8 829.4L932.8 829.4C934.6 830.2 941.1 831.4 943.7 833.8C946.4 836.2 947.8 841.3 948.7 843.8C949.7 846.3 949.2 848.1 949.3 849"/>
<path d="M429 648C429 660 428.8 698 429 719.9C429.1 741.9 429.7 767 430 779.9C430.2 792.7 429.7 791.8 430.4 797C431 802.1 432.5 807.4 434 810.9C435.4 814.4 437.5 816.3 439 817.9C440.5 819.6 442.3 820.4 443 820.9"/>
<path d="M435 646C435.1 655 434.7 681 435.6 700C436.4 718.9 438.7 744.4 440 759.9C441.2 775.4 442 782.8 443 793C444 803.1 445.5 816.3 446 820.9"/>
<path d="M447 644C446.5 646.7 445 654 444.4 660C443.7 666 443.2 671.7 443 680C442.7 688.3 442.3 696.6 443 709.9C443.6 723.3 445.8 748.7 447 759.9C448.1 771.1 449 770.8 450 777C451 783.2 451.8 789.5 453 797C454.1 804.4 455.1 813.6 457 821.9C458.8 830.3 461.8 839.4 463.9 846.9C466.1 854.4 467.9 862.4 469.9 866.9C471.9 871.4 472.6 872.2 475.9 873.9C479.3 875.5 485.9 876.2 489.9 876.9C493.9 877.5 495.4 876.8 499.9 877.9C504.4 878.9 514.1 882.4 516.9 883.3"/>
<path d="M443 821.9C444.1 822 447.7 822.4 450 822.1C452.2 821.9 455.3 820.8 456.4 820.5"/>
<path d="M611.8 671.2L505.9 667.6L505.9 667.6L478.9 667.6L478.9 667.6C478.4 668 476.5 668.3 475.9 670C475.3 671.7 475.3 675.5 475.3 678C475.4 680.5 475.7 683.5 476.3 685C476.9 686.5 478.5 686.6 478.9 687L478.9 687L618.8 692.4"/>
<path d="M610.4 724.5L485.9 720.3L485.9 720.3L478.9 720.3L478.9 720.3C478.5 720.9 477 721 476.5 723.9C476.1 726.9 475.9 735.1 476.3 737.9C476.7 740.7 478.5 740.4 478.9 740.9L478.9 740.9L610.4 745.5L610.4 745.5C610.8 745.1 612.3 745.8 612.8 742.9C613.3 740 613.8 731 613.4 727.9C613 724.9 610.9 725.1 610.4 724.5"/>
<path d="M480.3 777C480.8 775.8 481.3 771.6 482.9 770C484.5 768.4 488.8 767.8 489.9 767.4L489.9 767.4C498.2 767.6 516.6 767.8 539.9 768.6C563.2 769.4 614.8 771.4 629.8 772L629.8 772C631.8 772.5 638.9 773 641.8 775C644.6 777 645.9 782.5 646.7 784L646.7 784C647.2 791.1 648.4 810.8 649.7 826.9C651.1 843.1 653.9 871.9 654.7 880.9L654.7 880.9L649.7 882.9L649.7 882.9L553.8 883.3L553.8 883.3L503.9 863.9L503.9 863.9C502.2 862.7 496.4 860.1 493.9 856.9C491.4 853.7 489.7 846.9 488.9 844.9L488.9 844.9C488.1 839.2 485.4 822.3 483.9 810.9C482.5 799.6 480.9 782.6 480.3 777"/>
<path d="M654.7 880.9L656.7 883.9L656.7 883.9L681.7 883.9L681.7 883.9L684.7 880.9L684.7 880.9L710.1 880.9"/>
<path d="M684.1 881.9C683.9 879.4 683.3 873.7 682.7 866.9C682.1 860.1 681 845.2 680.7 840.9L680.7 840.9C681 839.7 681.2 835.8 682.7 833.9C684.2 832.1 687.2 830.7 689.7 829.9C692.2 829.2 696.4 829.4 697.7 829.3L697.7 829.3L710.1 829.3"/>
<path d="M520.2 635.3L588 638.2"/>
<path d="M480 646.2C490 647 523.5 650 540.3 651.2C557 652.4 570.1 652.8 580.4 653.2C590.7 653.6 598.4 653.6 602 653.7"/>
<path d="M581.9 618.3L592 653.2"/>
<path d="M594.5 615.1C595.7 621.3 599.5 642.7 602 652.2C604.5 661.8 607.6 667.7 609.5 672.3C611.5 676.9 611.1 674.7 613.8 680C616.5 685.3 620.8 696 625.8 704C630.8 711.9 637.1 720.3 643.8 727.9C650.4 735.6 658.1 743.4 665.7 749.9C673.4 756.4 680.7 761.9 689.7 766.9C698.7 771.9 709.9 776.9 720 779.9C730 782.9 738.3 783.5 749.9 784.9C761.6 786.2 776.6 787.5 789.9 787.9C803.2 788.2 816.5 787.9 829.9 786.9C843.2 785.9 858.2 783.9 869.8 781.9C881.5 779.9 890.8 777.9 899.8 774.9C908.8 771.9 917.1 767.7 923.8 763.9C930.4 760.1 934.4 756.2 939.7 751.9C945.1 747.6 950 744.3 956.1 738.4C962.1 732.4 970.1 724.3 976.2 716.3C982.2 708.2 987.9 698.2 992.2 690.2C996.6 682.1 999.8 674.8 1002.3 668.1C1004.8 661.4 1005.8 655.2 1007.3 650C1008.8 644.8 1010 643.3 1011.3 636.7C1012.6 630.1 1014.5 619.6 1015.3 610.6C1016.2 601.6 1016.5 591.2 1016.3 582.5C1016.2 573.8 1015.3 565.7 1014.3 558.4C1013.3 551 1012 545 1010.3 538.3C1008.6 531.6 1007.3 525.6 1004.3 518.2C1001.3 510.8 996.7 502.1 992.2 494.1C987.7 486.1 979.7 474 977.2 470"/>
<path d="M636.6 652.1C637 652.8 636.9 651.5 639.1 656.1C641.3 660.8 645.6 672.7 649.7 680C653.9 687.3 658.7 694 663.7 700C668.7 706 674.4 711.1 679.7 715.9C685 720.8 689.3 724.9 695.7 728.9C702.1 732.9 712.3 737.7 718 739.9C723.7 742.1 724.8 742.1 730 742.3C735.1 742.5 745.8 741.1 748.9 740.9"/>
<path d="M860.8 741.9C864 741.9 873.3 742.7 879.8 741.9C886.3 741.1 893.1 739.6 899.8 736.9C906.4 734.3 913.1 730.8 919.8 725.9C926.4 721.1 934.1 714.5 939.7 707.9C945.4 701.4 950.1 692.9 953.9 686.9C957.7 680.8 960.3 676.1 962.7 671.6C965.2 667 966.8 663 968.4 659.5C970 656.1 971.5 653 972.4 650.7C973.3 648.4 973.7 646.7 974 645.9"/>
<path d="M640.6 645.1C641.2 645.9 642 648.9 644.1 650.1C646.2 651.3 650.3 651.8 653.1 652.3C656 652.8 659.2 653.4 661.2 653.3C663.1 653.2 664.1 651.9 664.7 651.6"/>
<path d="M664.7 651.6L672.2 640.5L696.3 640.3"/>
<path d="M639.1 655.9C645.9 656.1 669 657 680.3 657.3C691.5 657.6 702 657.6 706.4 657.6"/>
<path d="M696.3 640.5C696.8 641 698 642.3 699.3 643.1C700.7 643.8 703 643.9 704.4 645.1C705.7 646.2 706.8 646.9 707.4 650.1C708 653.3 707.8 661.8 707.9 664.1"/>
<path d="M711.4 643.1L710.9 707.3"/>
<path d="M729 653.8C729 653.5 728.5 650.2 729 652.1C729.4 654 730.2 659.6 731.5 665.1C732.7 670.7 734.7 678 736.5 685.2C738.2 692.4 740.5 701.7 742 708.3C743.5 715 744.9 722.2 745.5 725"/>
<path d="M636 650L636.6 652.1"/>
<path d="M790 829.3L932.8 829.3L932.8 829.3C934.7 829.9 941.2 830.8 943.8 832.9C946.5 835 948 840.4 948.8 841.9L948.8 841.9C949 844.4 949.5 850.4 949.8 856.9C950.2 863.4 950.7 876.9 950.8 880.9L950.8 880.9L953.8 883.9L953.8 883.9C961 884 981.3 884.1 996.8 884.5C1012.3 884.8 1038.4 885.6 1046.7 885.9L1046.7 885.9C1047.4 885.5 1049.8 885.4 1050.7 883.9C1051.6 882.4 1051.9 878 1052.1 876.9L1052.1 876.9C1053.1 870.2 1056.2 852 1057.7 836.9C1059.2 821.9 1060.7 795 1061.3 786.6"/>
<path d="M710.1 880.9L950.8 881.3"/>
<path d="M1061.3 836.9L1059.7 874.9L1059.7 874.9C1059.4 876.5 1057.6 881.7 1057.7 884.9C1057.9 888 1060.2 892.4 1060.7 893.9"/>
<path d="M1052.1 876.5L1059.7 875.3"/>
<path d="M1009.8 806.9C1010 804.1 1008.2 804.7 1011.4 804.5C1014.5 804.4 1025.4 805.1 1028.7 805.9C1032.1 806.7 1030.8 806.2 1031.3 809.3C1031.8 812.5 1032 822 1031.7 824.9C1031.5 827.9 1033.1 827 1029.7 826.9C1026.4 826.9 1015.1 825.4 1011.8 824.5C1008.4 823.7 1010.1 824.9 1009.8 821.9C1009.4 819 1009.5 809.8 1009.8 806.9Z"/>
<path d="M1008.3 470C1008.8 471.3 1011 471.3 1011.3 478C1011.6 484.7 1010.6 501.5 1010.3 510.2C1010 518.9 1009.5 526.9 1009.3 530.3"/>
<path d="M1016.3 470C1016.7 471.7 1018.5 473.3 1018.7 480C1019 486.7 1018.5 498.5 1017.9 510.2C1017.4 521.9 1015.9 541.3 1015.3 550.3C1014.8 559.4 1014.8 562.1 1014.7 564.4"/>
<path d="M1031.4 470C1031.1 473.3 1030.2 481.7 1029.4 490.1C1028.5 498.5 1027.5 511.5 1026.4 520.2C1025.2 528.9 1024.2 535.6 1022.3 542.3C1020.5 549 1016.5 557.4 1015.3 560.4"/>
<path d="M1061.5 477C1060.2 480.2 1055.8 489.2 1053.5 496.1C1051.1 503 1048.6 511.8 1047.5 518.2C1046.3 524.6 1045.9 529.6 1046.4 534.3C1047 539 1048 542.3 1050.5 546.3C1053 550.3 1059.7 556.4 1061.5 558.4"/>
<path d="M1014.7 565.4L1028.4 566"/>
<path d="M1017.3 594.9L1028.4 591.5"/>
<path d="M1014.7 565.4L1017.3 594.9"/>
<path d="M1047.5 582.5L1061.5 583.5"/>
<path d="M1061.5 605.6C1059.7 605.9 1053.6 606.1 1050.5 607.6C1047.3 609.1 1045.1 611.1 1042.4 614.6C1039.8 618.1 1037.4 623.3 1034.4 628.7C1031.4 634 1026.9 641.5 1024.4 646.7C1021.8 652 1020.2 657.8 1019.3 660"/>
<path d="M940 657L968.1 659"/>
<path d="M1022.3 650C1021.7 651.3 1019.1 655.4 1018.7 658C1018.4 660.7 1018.7 661.4 1020.3 666.1C1021.9 670.8 1025.7 680.1 1028.4 686.2C1031.1 692.2 1033.4 697.9 1036.4 702.2C1039.4 706.6 1042.3 709.6 1046.4 712.3C1050.6 714.9 1059 717.3 1061.5 718.3"/>
<path d="M1002.3 668.1C1004.3 671.8 1010.6 683.5 1014.3 690.2C1018 696.9 1021 703.2 1024.4 708.2C1027.7 713.3 1030.7 717.1 1034.4 720.3C1038.1 723.5 1041.9 725.8 1046.4 727.3C1051 728.8 1059 729 1061.5 729.3"/>
<path d="M984.2 729.3C990.2 730.7 1007.5 735 1020.3 737.4C1033.2 739.7 1054.6 742.4 1061.5 743.4"/>
<path d="M940 752.4C943.3 753.8 953.4 757.6 960.1 760.5C966.8 763.3 975.1 766.5 980.2 769.5C985.2 772.5 987.7 775 990.2 778.5C992.7 782.1 994.2 785.2 995.2 790.6C996.3 795.9 996.2 802.4 996.6 810.7C997.1 818.9 997.6 835.1 997.8 840"/>
<path d="M1061.5 786.6L1055.5 840"/>
</g>
<g fill="#000" stroke-width="0.5">
<path d="M127.4 122.4L136.9 138.4L117.9 138.4Z"/>
<path d="M783.9 705.6L795.9 707.5L795.5 710.3L784.9 708.9Z"/>
</g>
<g fill="none" stroke-width="1.0">
<path d="M1176.6 85.9L1409.2 85.9"/>
<path d="M1125.5 124L1460.3 124"/>
<path d="M1154 306.4L1431.8 306.4"/>
<path d="M1148.5 311.4L1437.3 311.4"/>
<path d="M73.9 804.2L319.6 804.3"/>
<path d="M90.9 853.5L153.9 853.5"/>
<path d="M164.9 853.5L238.8 853.5"/>
<path d="M249.2 853.5L323.6 853.4"/>
<path d="M350 858.4L361.8 858.1"/>
<path d="M199.2 726.3L202.5 726.3"/>
<path d="M202.5 726.3L202.5 728.9"/>
<path d="M205.5 726.3L208.7 726.3"/>
<path d="M208.7 726.3L208.7 728.9"/>
<path d="M211.7 726.3L214.9 726.3"/>
<path d="M214.9 726.3L214.9 728.9"/>
<path d="M217.9 726.3L221.1 726.3"/>
<path d="M221.1 726.3L221.1 728.9"/>
<path d="M224.2 726.3L227.4 726.3"/>
<path d="M227.4 726.3L227.4 728.9"/>
<path d="M201.3 730.5L204.5 730.5"/>
<path d="M204.5 730.5L204.5 733.2"/>
<path d="M207.5 730.5L210.7 730.5"/>
<path d="M210.7 730.5L210.7 733.2"/>
<path d="M213.7 730.5L216.9 730.5"/>
<path d="M216.9 730.5L216.9 733.2"/>
<path d="M219.9 730.5L223.2 730.5"/>
<path d="M223.2 730.5L223.2 733.2"/>
<path d="M226.2 730.5L229.4 730.5"/>
<path d="M229.4 730.5L229.4 733.2"/>
<path d="M199.2 734.8L202.5 734.8"/>
<path d="M202.5 734.8L202.5 737.4"/>
<path d="M205.5 734.8L208.7 734.8"/>
<path d="M208.7 734.8L208.7 737.4"/>
<path d="M211.7 734.8L214.9 734.8"/>
<path d="M214.9 734.8L214.9 737.4"/>
<path d="M217.9 734.8L221.1 734.8"/>
<path d="M221.1 734.8L221.1 737.4"/>
<path d="M224.2 734.8L227.4 734.8"/>
<path d="M227.4 734.8L227.4 737.4"/>
<path d="M201.3 739L204.5 739"/>
<path d="M204.5 739L204.5 741.6"/>
<path d="M207.5 739L210.7 739"/>
<path d="M210.7 739L210.7 741.6"/>
<path d="M213.7 739L216.9 739"/>
<path d="M216.9 739L216.9 741.6"/>
<path d="M219.9 739L223.2 739"/>
<path d="M223.2 739L223.2 741.6"/>
<path d="M226.2 739L229.4 739"/>
<path d="M229.4 739L229.4 741.6"/>
<path d="M199.2 743.2L202.5 743.2"/>
<path d="M202.5 743.2L202.5 745.8"/>
<path d="M205.5 743.2L208.7 743.2"/>
<path d="M208.7 743.2L208.7 745.8"/>
<path d="M211.7 743.2L214.9 743.2"/>
<path d="M214.9 743.2L214.9 745.8"/>
<path d="M217.9 743.2L221.1 743.2"/>
<path d="M221.1 743.2L221.1 745.8"/>
<path d="M224.2 743.2L227.4 743.2"/>
<path d="M227.4 743.2L227.4 745.8"/>
<path d="M201.3 747.4L204.5 747.4"/>
<path d="M204.5 747.4L204.5 750"/>
<path d="M207.5 747.4L210.7 747.4"/>
<path d="M210.7 747.4L210.7 750"/>
<path d="M213.7 747.4L216.9 747.4"/>
<path d="M216.9 747.4L216.9 750"/>
<path d="M219.9 747.4L223.2 747.4"/>
<path d="M223.2 747.4L223.2 750"/>
<path d="M226.2 747.4L229.4 747.4"/>
<path d="M229.4 747.4L229.4 750"/>
<path d="M199.2 751.6L202.5 751.6"/>
<path d="M202.5 751.6L202.5 754.2"/>
<path d="M205.5 751.6L208.7 751.6"/>
<path d="M208.7 751.6L208.7 754.2"/>
<path d="M211.7 751.6L214.9 751.6"/>
<path d="M214.9 751.6L214.9 754.2"/>
<path d="M217.9 751.6L221.1 751.6"/>
<path d="M221.1 751.6L221.1 754.2"/>
<path d="M224.2 751.6L227.4 751.6"/>
<path d="M227.4 751.6L227.4 754.2"/>
<path d="M201.3 755.9L204.5 755.9"/>
<path d="M204.5 755.9L204.5 758.5"/>
<path d="M207.5 755.9L210.7 755.9"/>
<path d="M210.7 755.9L210.7 758.5"/>
<path d="M213.7 755.9L216.9 755.9"/>
<path d="M216.9 755.9L216.9 758.5"/>
<path d="M219.9 755.9L223.2 755.9"/>
<path d="M223.2 755.9L223.2 758.5"/>
<path d="M226.2 755.9L229.4 755.9"/>
<path d="M229.4 755.9L229.4 758.5"/>
<path d="M199.2 760.1L202.5 760.1"/>
<path d="M202.5 760.1L202.5 762.7"/>
<path d="M205.5 760.1L208.7 760.1"/>
<path d="M208.7 760.1L208.7 762.7"/>
<path d="M211.7 760.1L214.9 760.1"/>
<path d="M214.9 760.1L214.9 762.7"/>
<path d="M217.9 760.1L221.1 760.1"/>
<path d="M221.1 760.1L221.1 762.7"/>
<path d="M224.2 760.1L227.4 760.1"/>
<path d="M227.4 760.1L227.4 762.7"/>
<path d="M201.3 764.3L204.5 764.3"/>
<path d="M204.5 764.3L204.5 766.9"/>
<path d="M207.5 764.3L210.7 764.3"/>
<path d="M210.7 764.3L210.7 766.9"/>
<path d="M213.7 764.3L216.9 764.3"/>
<path d="M216.9 764.3L216.9 766.9"/>
<path d="M219.9 764.3L223.2 764.3"/>
<path d="M223.2 764.3L223.2 766.9"/>
<path d="M226.2 764.3L229.4 764.3"/>
<path d="M229.4 764.3L229.4 766.9"/>
<path d="M533.1 407.3L556.8 410.5"/>
<path d="M513.4 413.7L548.4 418.1"/>
<path d="M489.3 422.4L534.3 425.7"/>
<path d="M480.1 431.4L507 434.2"/>
<path d="M477.3 440.4L484.5 441.8"/>
<path d="M479.3 523.4L553.6 529.4"/>
<path d="M481.5 531.2L557.1 535"/>
<path d="M483.8 538.2L560 543.8"/>
<path d="M485.8 545.3L560 549.3"/>
<path d="M487.8 553.8L504.4 555.3"/>
<path d="M489.8 560.3L503.9 561.1"/>
<path d="M547.9 556.5L561.8 557.9"/>
<path d="M545.9 563.5L564.8 564.9"/>
<path d="M491.5 566.9L566.8 571.9"/>
<path d="M493.5 573.9L568.8 578.9"/>
<path d="M495.5 580.9L570.8 585.9"/>
<path d="M498.9 587.9L572.8 592.3"/>
<path d="M650.3 506.1L650.3 560.8"/>
<path d="M988.2 313.3L1012.8 313.1"/>
<path d="M700 577.9L731 577.9"/>
<path d="M919.8 645.5L919.8 660.3"/>
<path d="M711 642.8L711 669"/>
<path d="M479.9 669L479.9 686"/>
<path d="M507.3 668L507.3 688"/>
<path d="M535.3 669L535.3 689.4"/>
<path d="M562.8 669.6L562.8 690.4"/>
<path d="M589.2 670.4L589.2 691.4"/>
<path d="M485.5 720.9L485.5 741.5"/>
<path d="M524.9 722.3L524.9 742.3"/>
<path d="M527.5 722.3L527.5 742.3"/>
<path d="M554.4 722.9L554.4 742.9"/>
<path d="M581.4 723.9L581.4 744.3"/>
<path d="M608.8 724.9L608.8 744.9"/>
<path d="M516.9 883.5L553.8 883.3"/>
<path d="M568.9 621.3L578.9 621.3"/>
<path d="M707.9 665.1L710.4 665.1"/>
<path d="M996.8 884.5L996.8 844.9"/>
<path d="M1048.5 541.9L1058.5 541.9"/>
</g>
<g fill="#000" stroke-width="0.4">
<path d="M158.1 738.4L168.9 733.2L168.9 744.7Z"/>
<path d="M269 738.7L258.3 733.4L259 745.7Z"/>
<path d="M157.6 751.9L161.6 749.7L161.6 754.2Z"/>
</g>
<g fill="none" stroke-width="1.6">
<path d="M635.5 566L635.8 590.1"/>
<path d="M706 642.8L708 669"/>
</g>
<g fill="none" stroke-width="1.4">
<path d="M660.3 580.9L662.7 612.2"/>
<path d="M704.3 581.1L705.3 613.7"/>
</g>
<g fill="none" stroke-width="1.8">
<path d="M743 558.5C743.8 557.7 746.2 555.1 747.9 553.5C749.7 552 752.6 550 753.5 549.3"/>
<path d="M829.9 536.5C831.2 536.9 835.5 537.8 837.9 538.5C840.3 539.3 843.2 540.7 844.2 541.1"/>
<path d="M950.7 649.5L972.4 649.1"/>
<path d="M923.8 655.5L924 701"/>
<path d="M923.8 700L924.2 720.9"/>
</g>
<g fill="none" stroke-width="2.6">
<path d="M909.7 638L929.8 637.2"/>
</g>
<g fill="none" stroke-width="2.0">
<path d="M769.9 786.3L789.9 787.5"/>
</g>
<g fill="none" stroke-width="1.2">
<path d="M916.8 700L915.8 727.9"/>
</g>
<g fill="none" stroke-width="1.5">
<path d="M708 660L709 707.9L710 736.9"/>
<path d="M516.9 883.3L496.9 888.9L496.9 888.9L443 889.3L443 889.3L443 821.3"/>
</g>
<g fill="none" stroke-width="0.9">
<path d="M1012.8 808.5L1028.7 810.5"/>
<path d="M1012.8 811.1L1028.7 813.1"/>
<path d="M1012.8 813.7L1028.7 815.7"/>
<path d="M1012.8 816.3L1028.7 818.3"/>
<path d="M1012.8 818.9L1028.7 820.9"/>
<path d="M1012.8 821.5L1028.7 823.5"/>
</g>
<polygon points="639,289 725.5,493 681,289" style="fill:#fff;stroke:none"/>
<polyline points="639,289 725.5,493 681,289" style="fill:none;stroke:#fff;stroke-width:10;stroke-linejoin:miter;stroke-linecap:butt"/>
<polyline points="639,289 725.5,493 681,289" style="fill:none;stroke:#000;stroke-width:2.6;stroke-linejoin:bevel;stroke-linecap:butt"/>
<polygon points="1082,258.5 802.6,502 1082,300.5" style="fill:#fff;stroke:none"/>
<polyline points="1082,258.5 802.6,502 1082,300.5" style="fill:none;stroke:#fff;stroke-width:10;stroke-linejoin:miter;stroke-linecap:butt"/>
<polyline points="1082,258.5 802.6,502 1082,300.5" style="fill:none;stroke:#000;stroke-width:2.6;stroke-linejoin:bevel;stroke-linecap:butt"/>
<polygon points="410.5,620 651,594 410.5,661" style="fill:#fff;stroke:none"/>
<polyline points="410.5,620 651,594 410.5,661" style="fill:none;stroke:#fff;stroke-width:10;stroke-linejoin:miter;stroke-linecap:butt"/>
<polyline points="410.5,620 651,594 410.5,661" style="fill:none;stroke:#000;stroke-width:2.6;stroke-linejoin:bevel;stroke-linecap:butt"/>
<g fill="none" stroke="#000" style="stroke-linecap:butt;stroke-linejoin:miter">
<path d="M410.5 13V319" stroke-width="3" style="stroke-linecap:butt"/>
<path d="M13.5 319H412" stroke-width="2.4" style="stroke-linecap:butt"/>
<path d="M13 573.1H412" stroke-width="2.3" style="stroke-linecap:butt"/>
<path d="M410.5 572V621" stroke-width="3" style="stroke-linecap:butt"/>
<path d="M410.5 660V932" stroke-width="3" style="stroke-linecap:butt"/>
<path d="M547 13V290.2" stroke-width="2.1" style="stroke-linecap:butt"/>
<path d="M823.8 13V290.2" stroke-width="2.1" style="stroke-linecap:butt"/>
<path d="M546 289H639.8" stroke-width="2.4" style="stroke-linecap:butt"/>
<path d="M680.2 289H824.8" stroke-width="2.4" style="stroke-linecap:butt"/>
<path d="M1082 14V259" stroke-width="2.2" style="stroke-linecap:butt"/>
<path d="M1082 300.5V374.2" stroke-width="2.2" style="stroke-linecap:butt"/>
<path d="M1081 373H1488" stroke-width="2.4" style="stroke-linecap:butt"/>
</g>
<circle cx="54" cy="46.5" r="20.1" style="fill:none;stroke-width:2.1"/>
<circle cx="588" cy="47.7" r="20.1" style="fill:none;stroke-width:2.1"/>
<circle cx="1124.7" cy="47.7" r="20.1" style="fill:none;stroke-width:2.1"/>
<circle cx="51" cy="612" r="20.1" style="fill:none;stroke-width:2.1"/>
<path d="M46 38.2L51.5 36.3H53.7V57.8" style="fill:none;stroke-width:2.6;stroke-linecap:butt;stroke-linejoin:miter"/>
<path d="M581.5 39.5C584 36.6 588 36.6 591 37C595.5 37.8 596 42 594.8 45C593 49 585 54.5 581.2 58.8H597" style="fill:none;stroke-width:2.6;stroke-linecap:butt;stroke-linejoin:miter"/>
<path d="M1117 37.2H1131.5L1121.5 46.5C1126 45.8 1133 47.5 1133 53C1133 58 1128 59 1124 59H1117" style="fill:none;stroke-width:2.6;stroke-linecap:butt;stroke-linejoin:miter"/>
<path d="M55.3 600L41.5 617.3H60 M54.2 610.2V624" style="fill:none;stroke-width:2.6;stroke-linecap:butt;stroke-linejoin:miter"/>
<rect x="629.7" y="71.5" width="56.6" height="109.7" rx="12" ry="12" style="fill:none;stroke-width:4.8;stroke-linecap:butt;stroke-linejoin:round"/>
<path d="M717.2 262V222A11.8 11.8 0 0 1 729 210.2H761.5A11.8 11.8 0 0 1 773.3 222V262" style="fill:none;stroke-width:4.8;stroke-linecap:butt;stroke-linejoin:round"/>
<polygon points="639.9,100.3 676.2,100.3 672.3,116.9 644.6,116.9" style="fill:#000;stroke:#000;stroke-width:0.6;stroke-linejoin:miter"/>
<polygon points="644.8,150.9 671.3,150.9 676.1,166.9 640,166.9" style="fill:#000;stroke:#000;stroke-width:0.6;stroke-linejoin:miter"/>
<polygon points="726.9,237.9 763.1,237.9 759.1,255.9 732.5,255.9" style="fill:#000;stroke:#000;stroke-width:0.6;stroke-linejoin:miter"/>
<polygon points="628,101.5 619.2,109.2 618.8,111.4 620.4,112.2 628,110.6" style="fill:#000;stroke:#000;stroke-width:1.6;stroke-linejoin:round"/>
<polygon points="688,101.5 696.8,109.2 697.2,111.4 695.6,112.2 688,110.6" style="fill:#000;stroke:#000;stroke-width:1.6;stroke-linejoin:round"/>
<polygon points="715.5,240.2 706,248.6 706.4,250 715.5,249.4" style="fill:#000;stroke:#000;stroke-width:1.6;stroke-linejoin:round"/>
<polygon points="775,240.2 784.4,248.4 784.4,250.2 775,249.4" style="fill:#000;stroke:#000;stroke-width:1.6;stroke-linejoin:round"/>
<path d="M698.9 178.7A27.2 27.2 0 0 1 681.9 196.9" style="fill:none;stroke-width:3.6;stroke-linecap:round"/>
<path d="M710.2 181.7A38.9 38.9 0 0 1 687.6 207.2" style="fill:none;stroke-width:3.6;stroke-linecap:round"/>
<path d="M721.5 183.6A50.3 50.3 0 0 1 693 217.3" style="fill:none;stroke-width:3.6;stroke-linecap:round"/>
<rect x="192" y="723.3" width="45.9" height="44.5" rx="2.5" style="fill:none;stroke-width:1.2"/>
<ellipse cx="210.3" cy="780.9" rx="4.3" ry="5.4" style="fill:none;stroke-width:1.1"/>
<path d="M218.4 775.4V786.4M225.8 775.4L218.6 782.4M221.2 780L226.3 786.4" style="fill:none;stroke-width:1.1;stroke-linecap:butt"/>
<circle cx="804.9" cy="600.7" r="54" style="fill:none;stroke-width:1.3"/>
<ellipse cx="1029.4" cy="578.5" rx="6.4" ry="12.4" style="fill:none;stroke-width:1.3"/>
<rect x="1052.5" y="613.6" width="10" height="28.7" rx="2" style="fill:none;stroke-width:1.3"/>
</svg>
</body></html>
